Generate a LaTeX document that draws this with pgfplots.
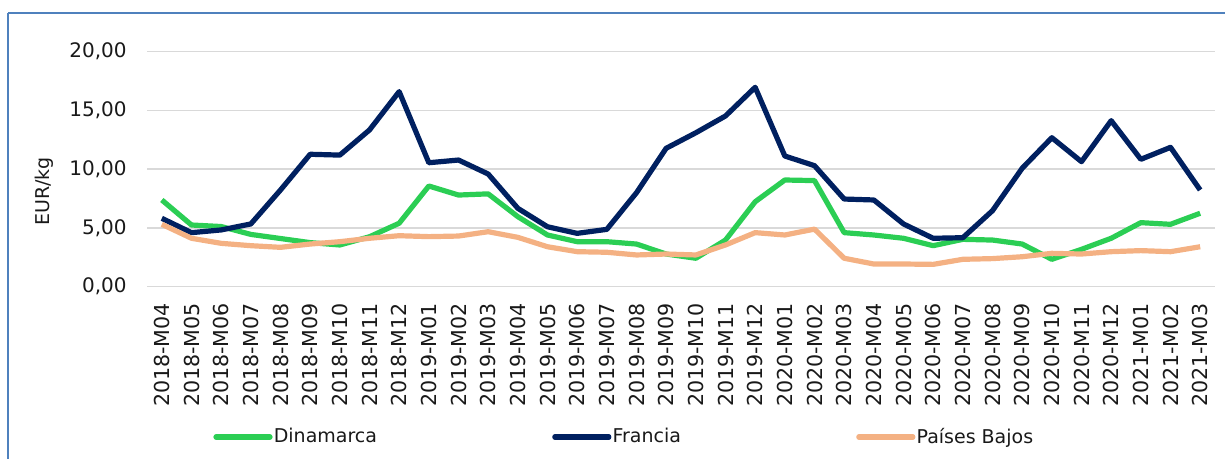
\documentclass[border=0pt]{standalone}
\usepackage{pgfplots}
\pgfplotsset{compat=1.18}
\usepackage{fontspec}
\setmainfont{DejaVu Sans}
\definecolor{cgreen}{RGB}{43,206,84}
\definecolor{cnavy}{RGB}{0,32,96}
\definecolor{corange}{RGB}{244,177,131}
\definecolor{cborder}{RGB}{79,129,189}
\definecolor{cgrid}{RGB}{217,217,217}
\begin{document}
\begin{tikzpicture}
\useasboundingbox (0pt,0pt) rectangle (612.5pt,229.5pt);
\draw[overlay, cborder, line width=1pt] (4.15pt,223.15pt) -- (4.15pt,-20pt);
\draw[overlay, cborder, line width=1pt] (4.15pt,223.15pt) -- (630pt,223.15pt);
\begin{axis}[
  at={(73.5pt,86.15pt)}, anchor=south west,
  scale only axis, width=534pt, height=117.5pt,
  xmin=-0.5, xmax=35.5, ymin=0, ymax=20,
  axis line style={draw=none},
  major tick length=0pt,
  ymajorgrids, grid style={cgrid, line width=0.8pt},
  ytick={0,5,10,15,20},
  xtick={0,...,35},
  xticklabels={2018-M04,2018-M05,2018-M06,2018-M07,2018-M08,2018-M09,2018-M10,2018-M11,2018-M12,2019-M01,2019-M02,2019-M03,2019-M04,2019-M05,2019-M06,2019-M07,2019-M08,2019-M09,2019-M10,2019-M11,2019-M12,2020-M01,2020-M02,2020-M03,2020-M04,2020-M05,2020-M06,2020-M07,2020-M08,2020-M09,2020-M10,2020-M11,2020-M12,2021-M01,2021-M02,2021-M03},
  xticklabel style={rotate=90, anchor=east, inner sep=0pt, font=\fontsize{10.3}{12}\selectfont, text=black!90},
  xticklabel shift=8pt,
  yticklabel style={anchor=east, inner sep=0pt, font=\fontsize{10}{12}\selectfont, text=black!90,
    /pgf/number format/.cd, fixed, fixed zerofill, precision=2, use comma, assume math mode=true},
  yticklabel shift=10pt,
  ylabel={EUR/kg},
  ylabel style={at={(axis description cs:-0.0964,0.405)}, anchor=center, font=\fontsize{9.5}{11}\selectfont, text=black!90},
  legend columns=3,
  legend style={at={(axis description cs:0.0618,-0.6396)}, anchor=west, draw=none, fill=none,
    inner sep=0pt, font=\fontsize{9.5}{11}\selectfont, text=black!90,
    nodes={inner sep=0.6pt},
    /tikz/every even column/.append style={column sep=87pt}},
  legend image code/.code={\draw[#1, line cap=round] (0pt,0pt) -- (27pt,0pt);},
  every axis plot/.append style={line width=2.6pt, line join=round},
]
\addplot[cgreen] coordinates {
(0,7.38)(1,5.25)(2,5.12)(3,4.45)(4,4.1)(5,3.75)(6,3.55)(7,4.25)(8,5.4)
(9,8.57)(10,7.8)(11,7.9)(12,5.96)(13,4.4)(14,3.83)(15,3.83)(16,3.63)(17,2.78)
(18,2.42)(19,3.97)(20,7.23)(21,9.08)(22,9.03)(23,4.6)(24,4.4)(25,4.12)(26,3.49)
(27,4.03)(28,3.97)(29,3.63)(30,2.33)(31,3.18)(32,4.12)(33,5.45)(34,5.31)(35,6.25)};
\addlegendentry{Dinamarca}
\addplot[cnavy] coordinates {
(0,5.82)(1,4.6)(2,4.83)(3,5.34)(4,8.23)(5,11.27)(6,11.2)(7,13.34)(8,16.6)
(9,10.55)(10,10.78)(11,9.59)(12,6.67)(13,5.1)(14,4.54)(15,4.88)(16,8.0)(17,11.78)
(18,13.1)(19,14.53)(20,16.97)(21,11.12)(22,10.3)(23,7.46)(24,7.38)(25,5.34)(26,4.12)
(27,4.17)(28,6.47)(29,10.08)(30,12.68)(31,10.64)(32,14.13)(33,10.84)(34,11.86)(35,8.23)};
\addlegendentry{Francia}
\addplot[corange] coordinates {
(0,5.31)(1,4.12)(2,3.69)(3,3.49)(4,3.35)(5,3.63)(6,3.83)(7,4.12)(8,4.34)
(9,4.26)(10,4.31)(11,4.68)(12,4.2)(13,3.4)(14,2.98)(15,2.93)(16,2.7)(17,2.78)
(18,2.7)(19,3.55)(20,4.6)(21,4.4)(22,4.9)(23,2.42)(24,1.93)(25,1.93)(26,1.9)
(27,2.33)(28,2.39)(29,2.55)(30,2.84)(31,2.78)(32,2.98)(33,3.07)(34,2.98)(35,3.4)};
\addlegendentry{Países Bajos}
\end{axis}
\end{tikzpicture}
\end{document}
